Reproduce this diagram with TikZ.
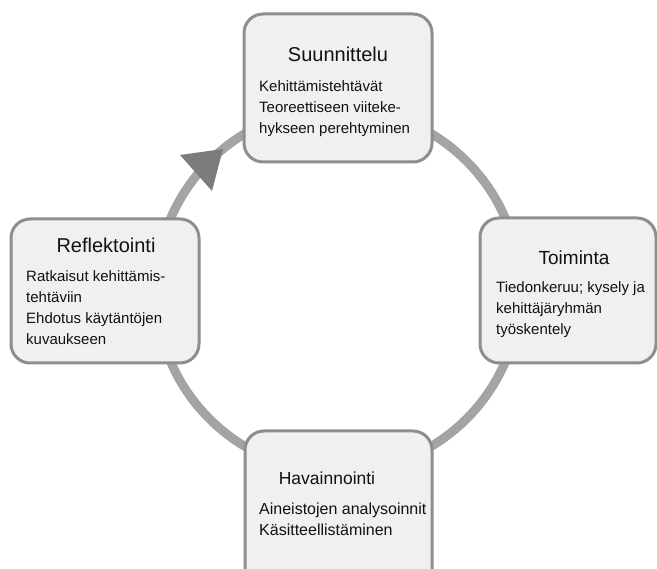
\documentclass[tikz,border=0pt]{standalone}
\usepackage{fontspec}
\setmainfont{Liberation Sans}
\definecolor{ringc}{HTML}{A4A4A4}
\definecolor{arrowc}{HTML}{7C7C7C}
\definecolor{boxline}{HTML}{8E8E8E}
\definecolor{boxfill}{HTML}{F0F0F0}
\definecolor{ink}{HTML}{111111}
\begin{document}
\begin{tikzpicture}[x=1pt,y=-1pt,
  ring/.style={draw=ringc,line width=9pt},
  phasebox/.style={draw=boxline,fill=boxfill,line width=3pt,rounded corners=19pt,inner sep=0pt},
  title/.style={anchor=base,text=ink,inner sep=0pt,font=\fontsize{20}{24}\selectfont},
  bodyline/.style={anchor=base west,text=ink,inner sep=0pt,font=\fontsize{15}{21}\selectfont}]
\useasboundingbox (0,0) rectangle (657,569);
\fill[white] (0,0) rectangle (657,569);
% ring
\coordinate (c) at (338,290);
\draw[ring] (c) circle (182);
% arrow head
\coordinate (a1) at (180,155);
\coordinate (a2) at (223,149);
\coordinate (a3) at (212,191);
\fill[arrowc] (a1) -- (a2) -- (a3) -- cycle;
% boxes
\node[phasebox,minimum width=188pt,minimum height=148pt] (top) at (338,88) {};
\node[phasebox,minimum width=188pt,minimum height=144pt] (left) at (105,291) {};
\node[phasebox,minimum width=176pt,minimum height=145pt] (right) at (568,290.5) {};
\node[phasebox,minimum width=187pt,minimum height=170pt] (bottom) at (338.5,516) {};
% top texts
\node[title] (t1) at (338,62) {Suunnittelu};
\node[bodyline] (t1a) at (259,92) {Kehittämistehtävät};
\node[bodyline] (t1b) at (259,113) {Teoreettiseen viiteke-};
\node[bodyline] (t1c) at (259,134) {hykseen perehtyminen};
% left texts
\node[title] (t2) at (106,253) {Reflektointi};
\node[bodyline] (t2a) at (26,282) {Ratkaisut kehittämis-};
\node[bodyline] (t2b) at (26,303) {tehtäviin};
\node[bodyline] (t2c) at (26,324) {Ehdotus käytäntöjen};
\node[bodyline] (t2d) at (26,345) {kuvaukseen};
% right texts
\node[title,font=\fontsize{19}{23}\selectfont] (t3) at (574,265) {Toiminta};
\node[bodyline] (t3a) at (496,293) {Tiedonkeruu; kysely ja};
\node[bodyline] (t3b) at (496,314) {kehittäjäryhmän};
\node[bodyline] (t3c) at (496,335) {työskentely};
% bottom texts
\node[title,font=\fontsize{17.5}{21}\selectfont] (t4) at (327,485) {Havainnointi};
\node[bodyline,font=\fontsize{16}{21}\selectfont] (t4a) at (259,515) {Aineistojen analysoinnit};
\node[bodyline,font=\fontsize{16}{21}\selectfont] (t4b) at (259,536) {Käsitteellistäminen};
\end{tikzpicture}
\end{document}
